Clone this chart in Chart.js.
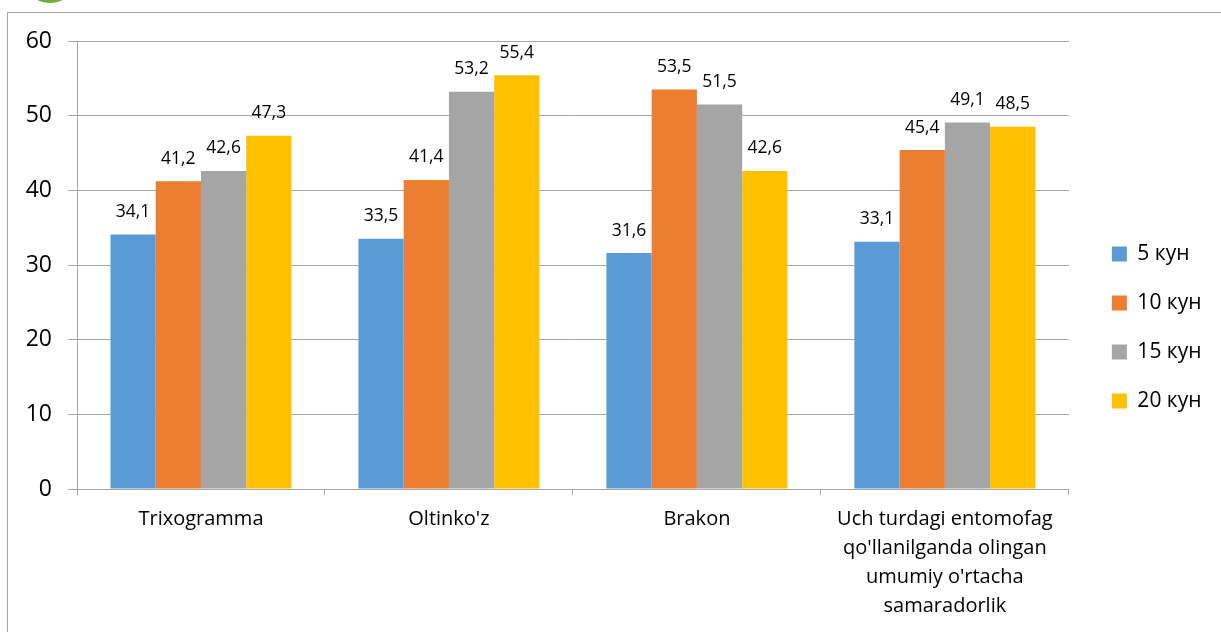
<!DOCTYPE html>
<html>
<head>
<meta charset="utf-8">
<script src="https://cdn.jsdelivr.net/npm/chart.js@4/dist/chart.umd.min.js"></script>
<style>
  html, body { margin: 0; padding: 0; background: #ffffff; overflow: hidden; }
  #frame { position: absolute; left: 7px; top: 12px; width: 1230px; height: 640px; border: 1px solid #a6a6a6; box-sizing: border-box; }
  #logo { position: absolute; left: 25px; top: -42px; width: 50px; height: 45px; border-radius: 50%; background: #6fae3c; }
  #wrap { position: absolute; left: 0; top: 0; width: 1221px; height: 632px; }
</style>
</head>
<body>
<div id="frame"></div>
<div id="logo"></div>
<div id="wrap"><canvas id="c" width="1221" height="632"></canvas></div>
<script>
const categories = [
  'Trixogramma',
  "Oltinko'z",
  'Brakon',
  ['Uch turdagi entomofag', "qo'llanilganda olingan", "umumiy o'rtacha", 'samaradorlik']
];
const seriesNames = ['5 кун', '10 кун', '15 кун', '20 кун'];
const values5 = [34.1, 33.5, 31.6, 33.1];
const values10 = [41.2, 41.4, 53.5, 45.4];
const values15 = [42.6, 53.2, 51.5, 49.1];
const values20 = [47.3, 55.4, 42.6, 48.5];
const yTicks = [0, 10, 20, 30, 40, 50, 60];

const colors = ['#5B9BD5', '#ED7D31', '#A5A5A5', '#FFC000'];
const FONT = '"Open Sans", Lato, sans-serif';

const valueLabels = {
  id: 'valueLabels',
  afterDatasetsDraw(chart) {
    const ctx = chart.ctx;
    ctx.save();
    ctx.font = '17.5px ' + FONT;
    ctx.fillStyle = '#000000';
    ctx.textAlign = 'center';
    ctx.textBaseline = 'alphabetic';
    chart.data.datasets.forEach((ds, di) => {
      const meta = chart.getDatasetMeta(di);
      meta.data.forEach((bar, i) => {
        const txt = ds.data[i].toFixed(1).replace('.', ',');
        ctx.fillText(txt, bar.x, bar.y - 17.5);
      });
    });
    ctx.restore();
  }
};

const seriesData = [values5, values10, values15, values20];

new Chart(document.getElementById('c'), {
  type: 'bar',
  data: {
    labels: categories,
    datasets: seriesNames.map((name, i) => ({
      label: name,
      data: seriesData[i],
      backgroundColor: colors[i],
      borderWidth: 0,
      barPercentage: 1,
      categoryPercentage: 0.73
    }))
  },
  options: {
    responsive: false,
    animation: false,
    devicePixelRatio: 1,
    layout: { padding: { left: 0, top: 23, right: 9.5, bottom: 0 } },
    plugins: {
      title: {
        display: true,
        text: ' ',
        font: { family: FONT, size: 10, lineHeight: 1 },
        padding: { top: 4, bottom: 4 }
      },
      legend: {
        position: 'right',
        align: 'center',
        labels: {
          boxWidth: 15,
          boxHeight: 15,
          padding: 28,
          color: '#000000',
          font: { family: FONT, size: 21 }
        }
      },
      tooltip: { enabled: false }
    },
    scales: {
      x: {
        grid: { display: true, drawOnChartArea: false, drawTicks: true, tickLength: 6, color: '#a6a6a6', offset: true },
        border: { display: true, color: '#a6a6a6' },
        ticks: { color: '#000000', padding: 10, maxRotation: 0, autoSkip: false, font: { family: FONT, size: 20, lineHeight: 29 / 20 } },
        afterFit(s) { s.height = 143; }
      },
      y: {
        min: 0,
        max: 60,
        afterBuildTicks(s) { s.ticks = yTicks.map(v => ({ value: v })); },
        grid: { color: '#a6a6a6', tickLength: 9, drawTicks: true },
        border: { display: true, color: '#a6a6a6' },
        ticks: { color: '#000000', padding: 16, font: { family: FONT, size: 23 } },
        afterFit(s) { s.width = 77; }
      },
      y2: {
        position: 'right',
        display: true,
        grid: { display: false, drawTicks: false },
        border: { display: false },
        ticks: { display: false },
        afterFit(s) { s.width = 15; }
      }
    }
  },
  plugins: [valueLabels]
});
</script>
</body>
</html>
